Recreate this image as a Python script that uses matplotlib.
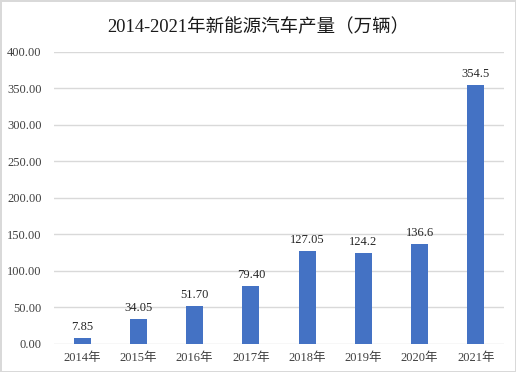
import matplotlib
matplotlib.use("Agg")
import matplotlib.pyplot as plt
import numpy as np

years = ["2014年", "2015年", "2016年", "2017年", "2018年", "2019年", "2020年", "2021年"]
output = [7.85, 34.05, 51.70, 79.40, 127.05, 124.2, 136.6, 354.5]
labels = ["7.85", "34.05", "51.70", "79.40", "127.05", "124.2", "136.6", "354.5"]

fam = ["Liberation Serif", "Noto Sans CJK SC"]
plt.rcParams["font.family"] = fam

fig = plt.figure(figsize=(5.16, 3.72), dpi=100)
fig.patch.set_edgecolor("#d9d9d9")
fig.patch.set_linewidth(1)
ax = fig.add_axes([0.1047, 0.0753, 0.872, 0.785])

x = np.arange(len(years))
bars = ax.bar(x, output, width=0.3, color="#4472C4", zorder=3)
for b, lab in zip(bars, labels):
    ax.text(b.get_x() + b.get_width() / 2, b.get_height() + 7, lab,
            ha="center", va="bottom", fontsize=9, color="#262626")

ax.set_xlim(-0.5, len(years) - 0.5)
ax.set_ylim(0, 400)
ax.set_yticks(np.arange(0, 401, 50))
ax.set_yticklabels([f"{v:.2f}" for v in np.arange(0, 401, 50)])
ax.set_xticks(x)
ax.set_xticklabels(years)
ax.tick_params(axis="both", length=0, labelsize=9, labelcolor="#404040")
ax.tick_params(axis="y", pad=9)
ax.tick_params(axis="x", pad=6)
ax.grid(axis="y", color="#d9d9d9", linewidth=1, zorder=0)
for s in ax.spines.values():
    s.set_visible(False)

fig.suptitle("2014-2021年新能源汽车产量（万辆）", y=0.95, fontsize=13.3, color="#1a1a1a")

fig.savefig("out.png", dpi=100)
